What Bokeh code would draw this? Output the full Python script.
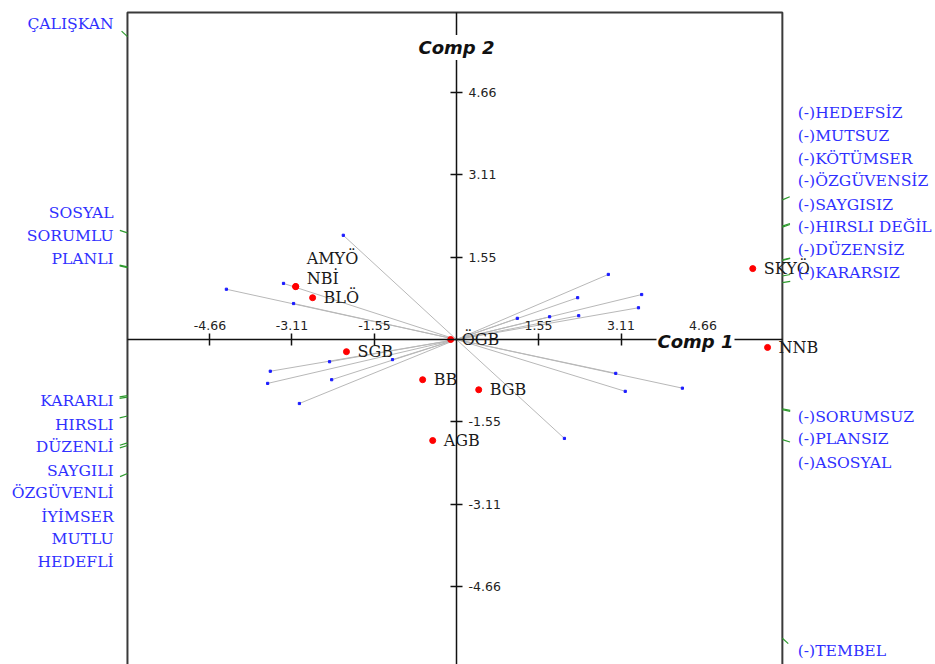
import numpy as np
from bokeh.plotting import figure
from bokeh.models import FixedTicker, Label, ColumnDataSource, BoxAnnotation, Range1d
from bokeh.embed import file_html
from bokeh.resources import INLINE
from bokeh.core.properties import value

# ---------------- data ----------------
point_names = ["AMYÖ", "NBİ", "BLÖ", "SGB", "ÖGB", "BB", "BGB", "AGB", "SKYÖ", "NNB"]
point_comp1 = [-3.04, -3.04, -2.72, -2.08, -0.11, -0.64, 0.42, -0.45, 5.60, 5.88]
point_comp2 = [1.00, 1.00, 0.79, -0.23, 0.00, -0.76, -0.95, -1.91, 1.34, -0.15]

vec_comp1 = [-2.14, -4.35, -3.27, -3.08, -3.52, -3.57, -2.97, -2.40, -2.36, -1.21,
             2.87, 3.50, 3.44, 2.29, 2.31, 1.15, 1.76, 3.01, 4.27, 3.19, 2.04]
vec_comp2 = [1.97, 0.95, 1.06, 0.68, -0.60, -0.83, -1.21, -0.42, -0.76, -0.38,
             1.23, 0.85, 0.60, 0.79, 0.45, 0.40, 0.43, -0.64, -0.92, -0.98, -1.87]

left_labels = ["ÇALIŞKAN", "SOSYAL", "SORUMLU", "PLANLI", "KARARLI", "HIRSLI",
               "DÜZENLİ", "SAYGILI", "ÖZGÜVENLİ", "İYİMSER", "MUTLU", "HEDEFLİ"]
right_labels = ["(-)HEDEFSİZ", "(-)MUTSUZ", "(-)KÖTÜMSER", "(-)ÖZGÜVENSİZ", "(-)SAYGISIZ",
                "(-)HIRSLI DEĞİL", "(-)DÜZENSİZ", "(-)KARARSIZ", "(-)SORUMSUZ",
                "(-)PLANSIZ", "(-)ASOSYAL", "(-)TEMBEL"]

tick_values = [-4.66, -3.11, -1.55, 1.55, 3.11, 4.66]
tick_labels = ["-4.66", "-3.11", "-1.55", "1.55", "3.11", "4.66"]

# ---------------- layout (positions / styles) ----------------
S = 52.9  # px per unit
box_l, box_r, box_t, box_b = -6.22, 6.16, 6.18, -6.30
left_label_y = [5.97, 2.39, 1.95, 1.52, -1.17, -1.61, -2.03, -2.48, -2.91, -3.35, -3.78, -4.20]
right_label_y = [4.28, 3.85, 3.41, 2.99, 2.55, 2.12, 1.69, 1.26, -1.46, -1.89, -2.33, -5.88]
left_label_x = -6.48
right_label_x = 6.45
pt_dx = [11, 11, 11, 11, 11, 11, 11, 11, 11, 11]
pt_dy = [-28, -8, 0, 0, 0, 0, 0, 0, 0, 0]

p = figure(width=935, height=664, output_backend="svg", toolbar_location=None,
           x_range=Range1d(-456 / S, 479 / S), y_range=Range1d(-325 / S, 339 / S),
           x_axis_location="above", y_axis_location="right",
           min_border=0, outline_line_color=None)
p.grid.visible = False
p.background_fill_color = "white"

# axes crossing at the origin
for ax in (p.xaxis, p.yaxis):
    ax.ticker = FixedTicker(ticks=tick_values)
    ax.major_label_overrides = {v: s for v, s in zip(tick_values, tick_labels)}
    ax.fixed_location = 0
    ax.axis_line_color = "#111111"
    ax.axis_line_width = 1.5
    ax.major_tick_line_color = "#111111"
    ax.major_tick_line_width = 1.5
    ax.major_tick_in = 6
    ax.major_tick_out = 6
    ax.minor_tick_line_color = None
    ax.major_label_text_font = "DejaVu Sans"
    ax.major_label_text_font_size = "12.5px"
    ax.major_label_text_color = "#222222"
p.xaxis.bounds = (box_l, box_r)
p.yaxis.bounds = (box_b, box_t)
p.xaxis.major_label_standoff = 4
p.yaxis.major_label_standoff = 6

# frame box
p.add_layout(BoxAnnotation(left=box_l, right=box_r, top=box_t, bottom=box_b,
                           fill_alpha=0, line_color="#3a3a3a", line_alpha=1.0, line_width=2,
                           level="underlay"))

# variable vectors
vx = np.array(vec_comp1)
vy = np.array(vec_comp2)
p.segment(x0=np.zeros_like(vx), y0=np.zeros_like(vy), x1=vx, y1=vy,
          line_color="#B8B8B8", line_width=1)
p.scatter(vx, vy, size=2.2, marker="square", color="#1a1aff")

# where each vector's direction meets the frame: short green marks outside
tx = np.where(vx > 0, box_r / vx, box_l / vx)
ty = np.where(vy > 0, box_t / vy, box_b / vy)
t = np.minimum(tx, ty)
hx, hy = vx * t, vy * t
ang = np.arctan2(vy, vx)
p.ray(x=hx, y=hy, length=8, length_units="screen", angle=ang,
      line_color="#2e9a2e", line_width=1.2)

# observation points
src = ColumnDataSource(dict(x=point_comp1, y=point_comp2, name=point_names, dx=pt_dx, dy=pt_dy))
p.scatter("x", "y", source=src, size=6, color="#ff0000")
p.text("x", "y", text="name", source=src, x_offset="dx", y_offset="dy",
       text_font=value("DejaVu Serif"), text_font_size="16px",
       text_baseline="middle", text_color="#1a1a1a")

# variable labels
p.text(x=[left_label_x] * len(left_labels), y=left_label_y, text=left_labels,
       text_align="right", text_baseline="middle",
       text_font=value("DejaVu Serif"), text_font_size="15.6px", text_color="#3030ff")
p.text(x=[right_label_x] * len(right_labels), y=right_label_y, text=right_labels,
       text_align="left", text_baseline="middle",
       text_font=value("DejaVu Serif"), text_font_size="15.6px", text_color="#3030ff")

# axis titles on the axes
p.add_layout(Label(x=239 / S, y=-2 / S, text="Comp 1", text_align="center", text_baseline="middle",
                   text_font="DejaVu Sans", text_font_style="bold italic", text_font_size="18px",
                   text_color="#111111", background_fill_color="white", padding=1))
p.add_layout(Label(x=0, y=292 / S, text="Comp 2", text_align="center", text_baseline="middle",
                   text_font="DejaVu Sans", text_font_style="bold italic", text_font_size="18px",
                   text_color="#111111", background_fill_color="white", padding=2))

open("out.html", "w").write(file_html(p, INLINE))
